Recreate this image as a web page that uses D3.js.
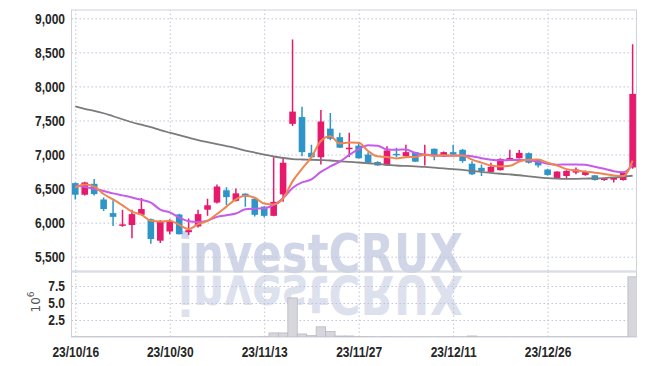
<!DOCTYPE html>
<html><head><meta charset="utf-8">
<script src="https://cdn.jsdelivr.net/npm/d3@7"></script>
<style>
html,body{margin:0;padding:0;background:#fff;}
svg{display:block;}
.lbl{font-family:"Liberation Sans",Arial,sans-serif;font-weight:bold;font-size:15px;fill:#262626;}
</style></head><body>
<svg id="chart" width="645" height="366"></svg>
<script>
const dates = ["23/10/16","23/10/17","23/10/18","23/10/19","23/10/20","23/10/23","23/10/24","23/10/25","23/10/26","23/10/27","23/10/30","23/10/31",
"23/11/01","23/11/02","23/11/03","23/11/06","23/11/07","23/11/08","23/11/09","23/11/10","23/11/13","23/11/14","23/11/15","23/11/16","23/11/17","23/11/20","23/11/21","23/11/22","23/11/23","23/11/24","23/11/27","23/11/28","23/11/29","23/11/30",
"23/12/01","23/12/04","23/12/05","23/12/06","23/12/07","23/12/08","23/12/11","23/12/12","23/12/13","23/12/14","23/12/15","23/12/18","23/12/19","23/12/20","23/12/21","23/12/22","23/12/26","23/12/27","23/12/28",
"24/01/02","24/01/03","24/01/04","24/01/05","24/01/08","24/01/09","24/01/10"];
const tickDates = ["23/10/16","23/10/30","23/11/13","23/11/27","23/12/11","23/12/26"];
const open  = [6580,6410,6570,6340,6140,5960,5965,6115,6050,5735,5870,6120,5860,5945,6190,6295,6475,6320,6425,6350,6235,6100,6415,7450,7550,7025,6960,7380,7255,7085,7130,7000,6890,6840,7010,6975,7035,6995,7085,6985,7035,7070,6865,6805,6745,6770,6925,6945,7020,6925,6780,6645,6685,6735,6700,6695,6625,6630,6625,6810];
const high  = [6590,6600,6640,6370,6330,6190,6190,6360,6060,6040,6050,6130,6060,6190,6350,6560,6520,6500,6430,6360,6240,6960,6935,8690,7700,7145,7655,7610,7320,7320,7185,7035,6900,7120,7100,7145,7040,7145,7090,7045,7145,7080,6900,6855,6880,6945,7070,7065,7030,6930,6790,6755,6770,6810,6765,6700,6655,6665,6740,8620];
const low   = [6340,6400,6400,6170,5950,5940,5770,6110,5690,5700,5830,5825,5820,5930,6100,6280,6260,6310,6235,6090,6080,6095,6305,7420,6975,6955,6855,7210,7095,6965,6940,6875,6835,6830,6960,6970,6890,6840,6915,6975,6975,6880,6700,6685,6735,6765,6920,6940,6870,6810,6690,6640,6650,6710,6690,6620,6615,6590,6620,6790];
const close = [6410,6590,6420,6200,6085,5975,6125,6200,5760,6025,6025,5830,5890,6125,6255,6530,6375,6430,6380,6115,6100,6305,6880,7630,7035,6960,7485,7230,7100,7100,6945,6880,6840,7060,6990,7035,6895,7005,6975,7035,7000,6905,6710,6755,6820,6935,6950,7025,6880,6840,6700,6750,6760,6780,6755,6625,6650,6660,6735,7890];
const volume = [0.03,0.03,0.03,0.03,0.03,0.03,0.03,0.03,0.03,0.03,0.03,0.03,0.03,0.03,0.03,0.03,0.03,0.03,0.03,0.03,0.04,0.6,0.6,5.75,0.45,0.2,1.5,0.8,0.15,0.15,0.05,0.04,0.03,0.04,0.03,0.03,0.03,0.03,0.03,0.03,0.03,0.03,0.15,0.03,0.03,0.03,0.03,0.03,0.03,0.03,0.03,0.03,0.03,0.03,0.03,0.03,0.03,0.03,0.03,8.85];
const ma5  = [6515,6560,6530,6420,6341,6254,6161,6117,6029,6017,6027,5968,5906,5979,6025,6126,6235,6343,6394,6366,6280,6266,6356,6606,6790,6962,7198,7268,7162,7175,7172,7051,6973,6965,6943,6961,6964,6997,6980,6989,6982,6984,6925,6881,6838,6825,6834,6897,6922,6926,6879,6839,6786,6766,6749,6734,6714,6694,6685,6912];
const ma10 = [6545,6525,6495,6465,6430,6400,6370,6335,6295,6190,6150,6075,6020,6010,6030,6085,6110,6135,6195,6205,6210,6260,6360,6510,6590,6635,6745,6825,6895,6995,7080,7135,7130,7075,7070,7075,7020,7000,6990,6980,6985,6985,6975,6945,6925,6915,6920,6920,6915,6895,6865,6850,6855,6855,6850,6820,6790,6755,6740,6845];
const ma60 = [7708,7672,7642,7606,7562,7518,7474,7438,7401,7358,7321,7285,7248,7212,7182,7153,7124,7095,7058,7029,7000,6971,6949,6934,6927,6923,6918,6912,6901,6891,6883,6872,6860,6850,6839,6832,6825,6818,6807,6796,6785,6774,6759,6745,6730,6718,6708,6696,6679,6664,6653,6647,6644,6644,6647,6650,6655,6664,6676,6689];
const priceTicks = [5500,6000,6500,7000,7500,8000,8500,9000];
const volTicks = [2.5,5.0,7.5];

const L=71.5, R=636.5, pTop=10, pBot=271, vTop=272, vBot=337;
const SX = 0.8; // horizontal squeeze for narrow labels
const svg = d3.select("#chart");
const n = dates.length;
const x = d3.scaleLinear().domain([-0.4, n-0.59]).range([L,R]);
const y = d3.scaleLinear().domain([5500,9000]).range([256.7,18.3]);
const yv = d3.scaleLinear().domain([0,9.56]).range([vBot,vTop]);
const bw = x(1)-x(0);
const idx = d3.range(n);
const tickIdx = tickDates.map(t=>dates.indexOf(t));

const defs = svg.append("defs");
defs.append("clipPath").attr("id","cp").append("rect").attr("x",L).attr("y",pTop).attr("width",R-L).attr("height",pBot-pTop);
defs.append("clipPath").attr("id","cv").append("rect").attr("x",L).attr("y",vTop).attr("width",R-L).attr("height",vBot-vTop);

// watermark (text + mirrored reflection via <use>)
const wm = svg.append("g");
wm.append("text").attr("id","wmText").attr("x",178).attr("y",271.5).attr("textLength",285).attr("lengthAdjust","spacingAndGlyphs")
  .style("font-family","'DejaVu Sans',sans-serif").style("font-weight","bold").style("font-size","53px")
  .attr("fill","#d0d5e7").text("investCRUX");
wm.append("use").attr("href","#wmText").attr("transform","translate(0,547) scale(1,-1)").attr("opacity",0.7);

// grids
const gridStyle = g => g.selectAll("line").attr("stroke","#bfc3d8").attr("stroke-width",1).attr("stroke-dasharray","1.5,2.5");
const gP = svg.append("g").attr("transform",`translate(${L},0)`)
  .call(d3.axisLeft(y).tickValues(priceTicks).tickSize(-(R-L)).tickFormat(""));
gP.select(".domain").remove(); gridStyle(gP);
const gV = svg.append("g").attr("transform",`translate(${L},0)`)
  .call(d3.axisLeft(yv).tickValues(volTicks).tickSize(-(R-L)).tickFormat(""));
gV.select(".domain").remove(); gridStyle(gV);
const gX1 = svg.append("g").attr("transform",`translate(0,${pBot})`)
  .call(d3.axisBottom(x).tickValues(tickIdx).tickSize(-(pBot-pTop)).tickFormat(""));
gX1.select(".domain").remove(); gridStyle(gX1);
const gX2 = svg.append("g").attr("transform",`translate(0,${vBot})`)
  .call(d3.axisBottom(x).tickValues(tickIdx).tickSize(-(vBot-vTop)).tickFormat(""));
gX2.select(".domain").remove(); gridStyle(gX2);

// panel borders
svg.append("rect").attr("x",L).attr("y",pTop).attr("width",R-L).attr("height",pBot-pTop).attr("fill","none").attr("stroke","#cfd2dc");
svg.append("rect").attr("x",L).attr("y",vTop).attr("width",R-L).attr("height",vBot-vTop).attr("fill","none").attr("stroke","#cfd2dc");

// volume bars
svg.append("g").attr("clip-path","url(#cv)").selectAll("rect").data(idx).join("rect")
  .attr("x",i=>x(i)-bw/2).attr("width",bw).attr("y",i=>yv(volume[i])).attr("height",i=>vBot-yv(volume[i]))
  .attr("fill","#d6d6dc").attr("stroke","#b9b9c2").attr("stroke-width",0.8);

// candles
const up="#e6196d", dn="#2e95c8";
const pc = svg.append("g").attr("clip-path","url(#cp)");
const cg = pc.append("g");
cg.selectAll("line").data(idx).join("line")
  .attr("x1",i=>x(i)).attr("x2",i=>x(i)).attr("y1",i=>y(high[i])).attr("y2",i=>y(low[i]))
  .attr("stroke",i=>close[i]>=open[i]?up:dn).attr("stroke-width",1.5);
cg.selectAll("rect").data(idx).join("rect")
  .attr("x",i=>x(i)-3.3).attr("width",6.6)
  .attr("y",i=>y(Math.max(open[i],close[i])))
  .attr("height",i=>Math.max(1.5,Math.abs(y(open[i])-y(close[i]))))
  .attr("fill",i=>close[i]>=open[i]?up:dn);

// moving averages
const line = arr => d3.line().x(i=>x(i)).y(i=>y(arr[i])).curve(d3.curveMonotoneX)(idx);
pc.append("path").attr("d",line(ma60)).attr("fill","none").attr("stroke","#7b7b7b").attr("stroke-width",1.8);
pc.append("path").attr("d",line(ma10)).attr("fill","none").attr("stroke","#c65ce9").attr("stroke-width",2);
pc.append("path").attr("d",line(ma5)).attr("fill","none").attr("stroke","#ef8550").attr("stroke-width",2);

// axes labels (narrow: horizontally squeezed)
function styleLeft(g){
  g.select(".domain").remove();
  g.selectAll("text").attr("class","lbl").attr("font-size",null).attr("font-family",null)
    .attr("x",-6.5/SX).attr("transform",`scale(${SX},1)`);
}
const ay = svg.append("g").attr("transform",`translate(${L},0)`)
  .call(d3.axisLeft(y).tickValues(priceTicks).tickSize(0).tickPadding(6).tickFormat(d3.format(",")));
styleLeft(ay);
const av = svg.append("g").attr("transform",`translate(${L},0)`)
  .call(d3.axisLeft(yv).tickValues(volTicks).tickSize(0).tickPadding(6).tickFormat(d3.format(".1f")));
styleLeft(av);
const ax = svg.append("g").attr("transform",`translate(0,${vBot})`)
  .call(d3.axisBottom(x).tickValues(tickIdx).tickSize(0).tickPadding(9.5).tickFormat(i=>dates[i]));
ax.select(".domain").remove();
ax.selectAll("text").attr("class","lbl").attr("font-size",null).attr("font-family",null)
  .attr("transform",`scale(${SX},1)`);

// 10^6 label
const t6 = svg.append("text").attr("transform","translate(40,302) rotate(-90)").attr("text-anchor","middle")
  .style("font-family","'DejaVu Sans',sans-serif").style("font-size","12px").attr("fill","#555");
t6.append("tspan").text("10");
t6.append("tspan").attr("dy",-6).style("font-size","9px").text("6");
</script>
</body></html>
